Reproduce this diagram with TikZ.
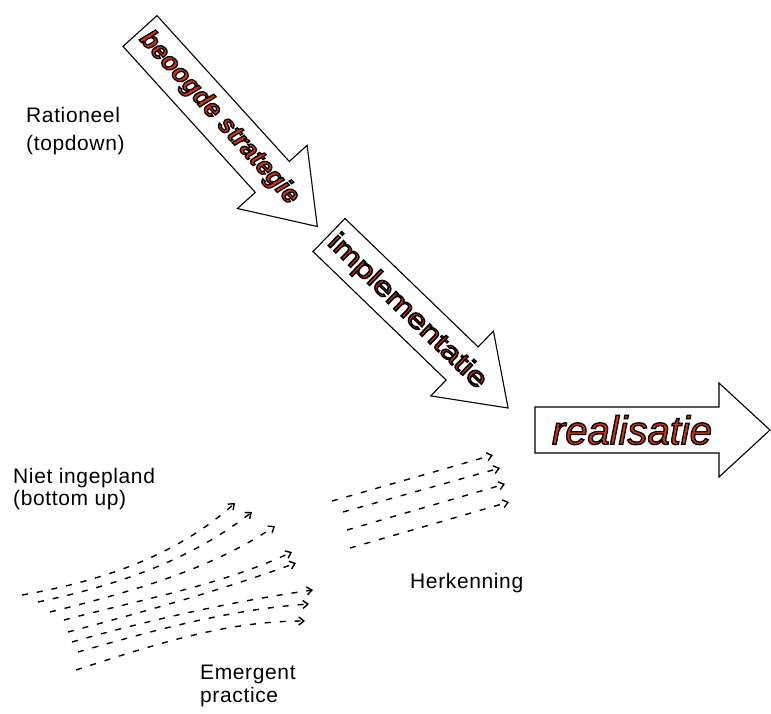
\documentclass[tikz,border=0pt]{standalone}
\usepackage{fontspec}
\setmainfont{Liberation Sans}
\newfontfamily\labf[LetterSpace=3]{Liberation Sans}
\usetikzlibrary{arrows.meta}
\definecolor{tred}{RGB}{214,52,12}

\tikzset{
  bigarrow/.style={draw=black, fill=white, line width=1.1pt, line join=miter},
  lbl/.style={font=\labf\fontsize{21}{24}\selectfont, anchor=base west, inner sep=0pt},
  dasharrow/.style={line width=1.4pt, dash pattern=on 6pt off 9pt,
    -{Straight Barb[length=5pt,width=8pt]}},
  otext/.style={text=tred, inner sep=0pt},
}

% red text with a black outline (PDF text render mode 2: fill and stroke)
\newcommand\outl[1]{\special{pdf:literal direct 0 0 0 RG 1.3 w 2 Tr}#1\special{pdf:literal direct 0 Tr}}

\begin{document}
\begin{tikzpicture}[x=1pt, y=-1pt]
\path[fill=white] (0,0) rectangle (771,713);
\useasboundingbox (0,0) rectangle (771,713);

% big arrows
\draw[bigarrow] (157.0,15.6) -- (289.3,161.5) -- (307.1,145.3) -- (317.3,226.5)
  -- (237.5,208.5) -- (255.3,192.4) -- (123.0,46.4) -- cycle;
\draw[bigarrow] (345.0,218.5) -- (478.1,346.9) -- (493.4,331.1) -- (508.1,408.0)
  -- (430.8,395.9) -- (446.1,380.0) -- (313.0,251.5) -- cycle;
\draw[bigarrow] (535,407) -- (719,407) -- (719,383) -- (770,430) -- (719,477)
  -- (719,453) -- (535,453) -- cycle;

% arrow texts
\node[otext, rotate=-47.8, font=\fontsize{26}{26}\selectfont\bfseries\itshape] (strat) at (219,118) {\outl{beoogde strategie}};
\node[otext, rotate=-44, font=\fontsize{27}{27}\selectfont] (impl) at (407,312) {\scalebox{1.25}[1]{\outl{implementatie}}};
\node[otext, font=\fontsize{40}{40}\selectfont\itshape] (real) at (632,430) {\outl{realisatie}};

% labels
\node[lbl] (rat1) at (26,122) {Rationeel};
\node[lbl] (rat2) at (26,150) {(topdown)};
\node[lbl] (niet1) at (13,483) {Niet ingepland};
\node[lbl] (niet2) at (13,505) {(bottom up)};
\node[lbl] (herk) at (410,588) {Herkenning};
\node[lbl] (emer1) at (200,679) {Emergent};
\node[lbl] (emer2) at (200,702) {practice};

% emergent dashed arrows
\foreach \sx/\sy/\ex/\ey/\a/\b [count=\i] in {
  22/595/235/503/10/42,
  38/602/252/512/12/38,
  50/612/275/526/14/34,
  64/620/292/552/15/25,
  68/632/296/563/15/20,
  72/642/313/590/16/8,
  78/652/309/604/16/4,
  76/670/305/621/18/0}{
  \coordinate (gs\i) at (\sx,\sy);
  \coordinate (ge\i) at (\ex,\ey);
  \draw[dasharrow] (gs\i) .. controls +({80*cos(\a)},{-80*sin(\a)})
    and +({-80*cos(\b)},{80*sin(\b)}) .. (ge\i);
}

% herkenning dashed arrows
\foreach \sx/\sy/\ex/\ey [count=\i] in {
  332/501/493/455,
  343/512/500/468,
  347/530/505/484,
  350/548/509/502}{
  \coordinate (hs\i) at (\sx,\sy);
  \coordinate (he\i) at (\ex,\ey);
  \draw[dasharrow] (hs\i) -- (he\i);
}
\end{tikzpicture}
\end{document}
